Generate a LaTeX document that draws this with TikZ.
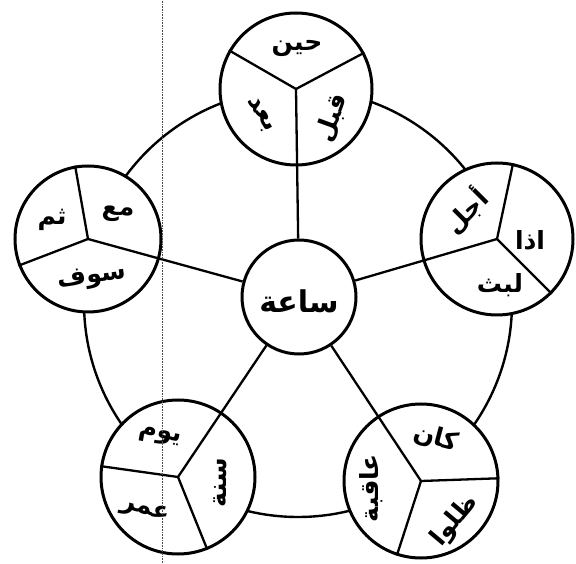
\documentclass[tikz,border=0pt]{standalone}
\usepackage{fontspec}
\TeXXeTstate=1
\newfontfamily\arabicfont[Script=Arabic]{DejaVu Sans}
\newcommand\artext[1]{\beginR#1\endR}
\begin{document}
\begin{tikzpicture}[x=1pt,y=1pt,
  ringline/.style={line width=2.4pt},
  outercircle/.style={circle,draw,line width=3pt,fill=white,inner sep=0pt},
  divider/.style={line width=2.3pt},
  ar/.style={font=\arabicfont\bfseries\fontsize{25}{27}\selectfont,inner sep=0pt},
  foldline/.style={line width=0.6pt,densely dotted,black!70}]
\useasboundingbox (0,0) rectangle (576,563);
% big ring
\draw[ringline] (298,260) circle (214);
% outer circles
\node[outercircle,minimum size=152pt] (T)  at (296,474) {};
\node[outercircle,minimum size=152pt] (R)  at (497,324) {};
\node[outercircle,minimum size=154pt] (BR) at (421,82) {};
\node[outercircle,minimum size=154pt] (BL) at (178,86) {};
\node[outercircle,minimum size=146pt] (L)  at (88,324) {};
% centre circle
\node[outercircle,minimum size=114pt] (C) at (299,266) {};
% spokes (continue into the circles as dividers)
\foreach \n in {T,R,BR,BL,L} \draw[divider] (\n.center) -- (C);
% other dividers
\draw[divider] (T.center) -- (T.150);  \draw[divider] (T.center) -- (T.28);
\draw[divider] (R.center) -- (R.78);   \draw[divider] (R.center) -- (R.-45);
\draw[divider] (BR.center) -- (BR.2);  \draw[divider] (BR.center) -- (BR.252);
\draw[divider] (BL.center) -- (BL.172);\draw[divider] (BL.center) -- (BL.292);
\draw[divider] (L.center) -- (L.100);  \draw[divider] (L.center) -- (L.201);
% texts
\node[ar,font=\arabicfont\bfseries\fontsize{30}{32}\selectfont] (c0) at (299,262) {\artext{ساعة}};
\node[ar] (t1) at (297,515) {\artext{حين}};
\node[ar,rotate=-60] (t2) at (260,448) {\artext{بعد}};
\node[ar,rotate=70] (t3) at (332,445) {\artext{قبل}};
\node[ar] (r1) at (530,323) {\artext{اذا}};
\node[ar,rotate=45] (r2) at (466,352) {\artext{أجل}};
\node[ar] (r3) at (500,278) {\artext{لبث}};
\node[ar,rotate=-15] (b1) at (436,125) {\artext{كان}};
\node[ar,rotate=90] (b2) at (371,75) {\artext{عاقبة}};
\node[ar,rotate=50] (b3) at (455,42) {\artext{ظلوا}};
\node[ar,rotate=-10] (l1) at (160,126) {\artext{يوم}};
\node[ar,rotate=90] (l2) at (220,80) {\artext{سنة}};
\node[ar,rotate=-15] (l3) at (145,52) {\artext{عمر}};
\node[ar] (m1) at (52,343) {\artext{ثم}};
\node[ar] (m2) at (118,349) {\artext{مع}};
\node[ar,rotate=8] (m3) at (92,285) {\artext{سوف}};
% fold line of the scan
\draw[foldline] (162,0) -- (162,563);
\end{tikzpicture}
\end{document}
